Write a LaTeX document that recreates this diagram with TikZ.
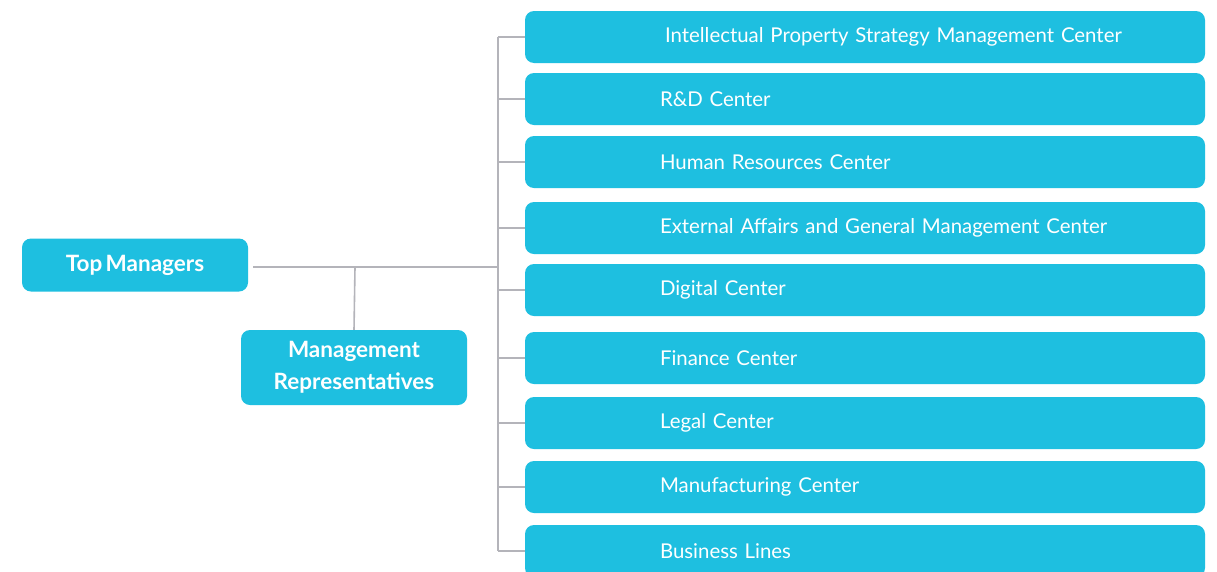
\documentclass[tikz,border=0pt]{standalone}
\usepackage{fontspec}
\setmainfont[WordSpace=0.6]{Lato}
\usetikzlibrary{positioning,calc}
\definecolor{boxcyan}{HTML}{1EBFE0}
\definecolor{linegray}{HTML}{B4B4BA}
\tikzset{
    x=1pt, y=-1pt,
    unit/.style = {rectangle, rounded corners=9pt, fill=boxcyan, text=white, inner sep=0pt},
    lead/.style = {unit, minimum width=226pt, minimum height=53pt, align=center,
                   font=\fontsize{22.5}{32}\selectfont\bfseries},
    dept/.style = {unit, minimum width=680pt, minimum height=52pt, text width=410pt, align=left,
                   font=\fontsize{20.4}{24}\selectfont},
    link/.style = {draw=linegray, line width=1.6pt}
}

\begin{document}
\begin{tikzpicture}
    \clip (0,0) rectangle (1217,571);
    \fill[white] (0,0) rectangle (1217,571);
    % Top of the chart
    \node[lead] (top) at (135,265) {Top Managers};
    \node[lead, minimum height=75pt] (reps) at (354,367.5) {Management\\Representatives};
    % The centers on the right
    \foreach \name/\y/\label in {
        ipr/37/{\hspace*{5pt}Intellectual Property Strategy Management Center},
        rnd/99/{R\&D Center},
        hr/162/{Human Resources Center},
        ext/228/{External Affairs and General Management Center},
        dig/290/{Digital Center},
        fin/358/{Finance Center},
        leg/423/{Legal Center},
        mfg/487/{Manufacturing Center},
        biz/551/{Business Lines}}
        \node[dept] (\name) at (865,\y) {\mbox{\label}};
    % Connectors
    \coordinate (joint) at (355,267);
    \coordinate (spine) at (498,267);
    \draw[link] ([xshift=5pt]top.east |- joint) -- (spine);
    \draw[link] (joint) -- (reps.north);
    \draw[link] (spine |- ipr.west) -- (spine |- biz.west);
    \foreach \name in {ipr,rnd,hr,ext,dig,fin,leg,mfg,biz}
        \draw[link] (spine |- \name.west) -- (\name.west);
\end{tikzpicture}
\end{document}
